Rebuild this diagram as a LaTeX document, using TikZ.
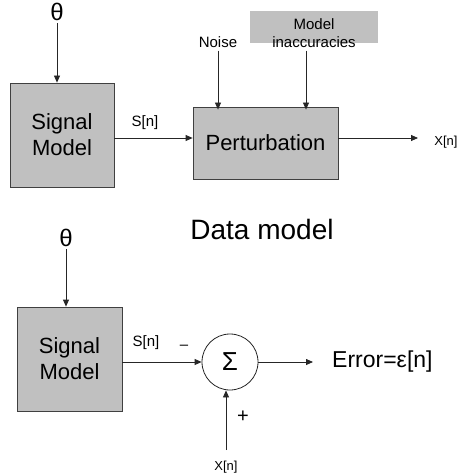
\documentclass[tikz,border=0pt]{standalone}
\usepackage{fontspec}
\setmainfont{Liberation Sans}
\usetikzlibrary{arrows.meta}
\definecolor{boxgray}{RGB}{192,192,192}
\tikzset{
  arr/.style={-{Triangle[length=7pt,width=6pt]}, line width=0.8pt, draw=black!85},
  blockbox/.style={draw=black!75, line width=0.8pt, fill=boxgray, inner sep=0pt, align=center, font=\fontsize{22}{26}\selectfont},
  lbl/.style={inner sep=0pt, font=\fontsize{15}{18}\selectfont, align=center},
  small/.style={inner sep=0pt, font=\fontsize{13}{15}\selectfont},
  greek/.style={inner sep=0pt, font=\fontsize{24}{26}\selectfont},
}
\begin{document}
\begin{tikzpicture}[x=1pt,y=-1pt]
\useasboundingbox (0,0) rectangle (458,476);
% ---------- top: data model ----------
\node[greek] (th1) at (57,12) {θ};
\node[blockbox, minimum width=104pt, minimum height=104pt] (sm1) at (62,135) {Signal\\Model};
\node[blockbox, minimum width=145pt, minimum height=72pt] (pert) at (265.5,143) {Perturbation};
\node[lbl] (sn1) at (145,123) {S[n]};
\node[lbl] (noise) at (218,42) {Noise};
\node[fill=boxgray, minimum width=128pt, minimum height=32pt, inner sep=0pt] (mibox) at (314,27) {};
\node[lbl] (mi) at (314,33) {Model\\inaccuracies};
\node[small] (xn1) at (446,142) {X[n]};
\coordinate (xend) at (418,138);
\node[inner sep=0pt, font=\fontsize{28}{32}\selectfont] (title) at (262,229) {Data model};

\draw[arr] ([yshift=-2pt]th1.south) -- (th1.south |- sm1.north);
\draw[arr] ([yshift=-3pt]sm1.east) -- ([yshift=5pt]pert.west);
\draw[arr] ([yshift=-3pt]noise.south) -- ([yshift=-3pt]noise.south |- pert.north);
\draw[arr] ([xshift=-8pt,yshift=-3pt]mi.south) -- ([xshift=-8pt,yshift=-3pt]mi.south |- pert.north);
\draw[arr] ([yshift=5pt]pert.east) -- (xend);

% ---------- bottom: error model ----------
\node[greek] (th2) at (66,238) {θ};
\node[blockbox, minimum width=105pt, minimum height=104pt] (sm2) at (69.5,359) {Signal\\Model};
\node[lbl] (sn2) at (146,343) {S[n]};
\node[lbl] (minus) at (184,347) {–};
\node[draw=black!85, line width=0.8pt, circle, minimum size=56pt, inner sep=0pt, font=\fontsize{26}{28}\selectfont] (sum) at (230,362) {Σ};
\node[inner sep=0pt, anchor=west, font=\fontsize{23}{26}\selectfont] (err) at (332,362) {Error=ε[n]};
\coordinate (eend) at (313,362);
\node[inner sep=0pt, font=\fontsize{20}{22}\selectfont] (plus) at (243,417) {+};
\node[small] (xn2) at (226,467) {X[n]};
\coordinate (xstart) at (226,450);

\draw[arr] ([yshift=-2pt]th2.south) -- (th2.south |- sm2.north);
\draw[arr] ([yshift=-3pt]sm2.east) -- (sum.west);
\draw[arr] (sum.east) -- (eend);
\draw[arr] (xstart) -- (xstart |- sum.south);
\end{tikzpicture}
\end{document}
